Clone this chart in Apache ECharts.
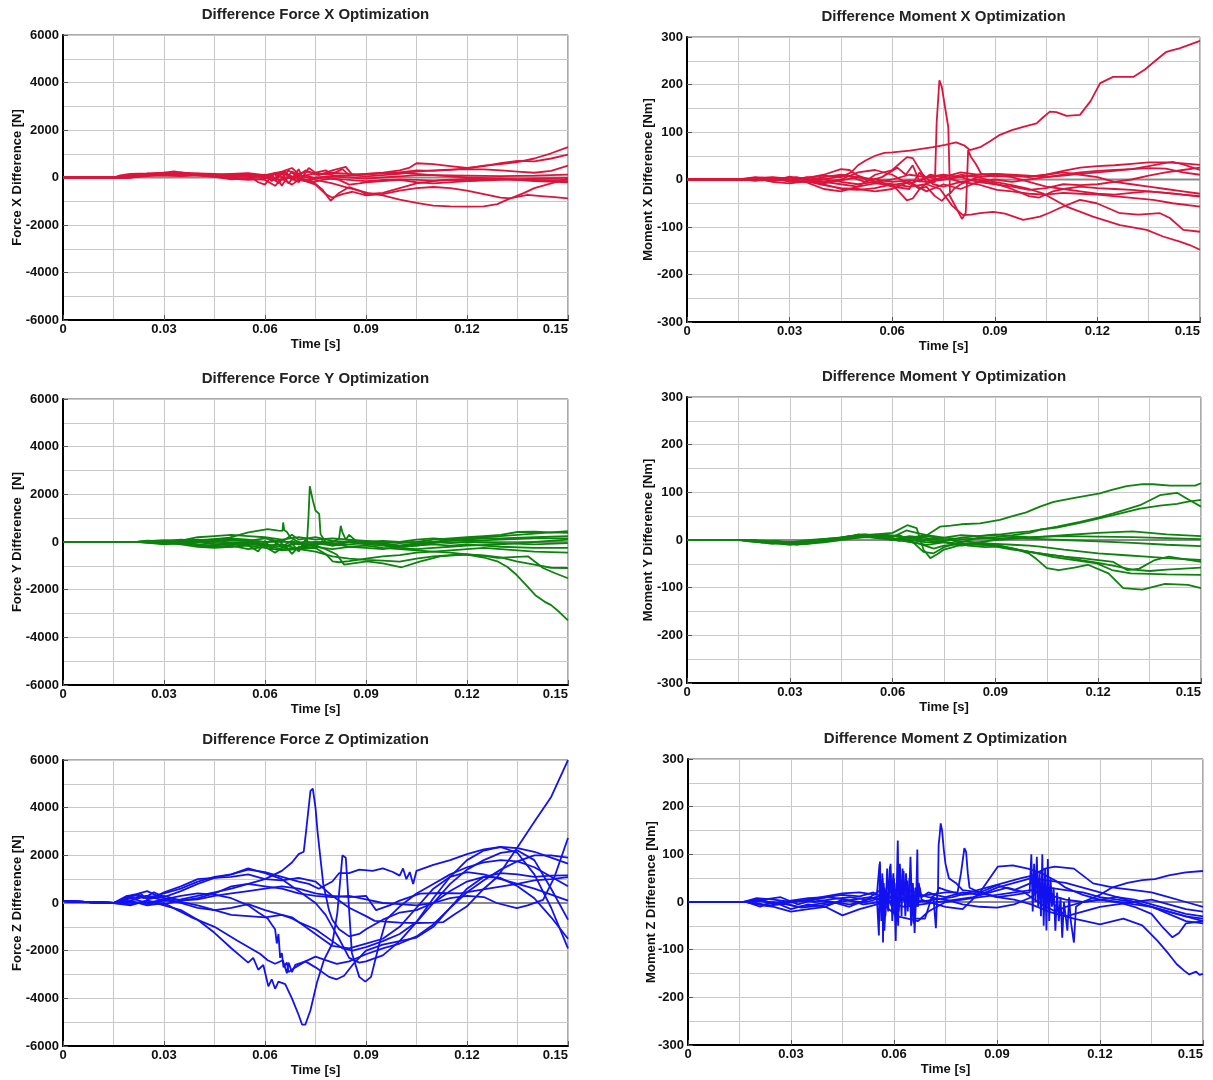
<!DOCTYPE html>
<html>
<head>
<meta charset="utf-8">
<title>Difference Optimization</title>
<script src="https://cdn.jsdelivr.net/npm/echarts@6/dist/echarts.min.js"></script>
<style>
  html, body { margin: 0; padding: 0; background: #ffffff; }
  #chart { width: 1213px; height: 1080px; }
</style>
</head>
<body>
<div id="chart"></div>
<script>
// ---------- tick labels ----------
const timeTicks = [0, 0.03, 0.06, 0.09, 0.12, 0.15];
const forceTicks = [-6000, -4000, -2000, 0, 2000, 4000, 6000];
const momentTicks = [-300, -200, -100, 0, 100, 200, 300];

// reference line at zero
const zeroRef = [[0, 0], [0.15, 0]];

// ---------- Force X difference [N] : [time s, value] ----------
const fx1 = [[0,0],[0.015,0],[0.017,90],[0.02,150],[0.025,170],[0.03,200],[0.033,260],[0.036,180],[0.04,170],[0.045,150],[0.05,120],[0.055,160],[0.06,60],[0.063,180],[0.066,-80],[0.068,250],[0.07,100],[0.072,300],[0.075,120],[0.08,200],[0.085,150],[0.09,120],[0.095,180],[0.1,220],[0.105,300],[0.11,280],[0.115,320],[0.12,380],[0.125,500],[0.13,560],[0.135,650],[0.14,800],[0.145,1020],[0.15,1280]];
const fx2 = [[0,0],[0.016,0],[0.02,100],[0.025,130],[0.03,150],[0.035,220],[0.04,140],[0.045,120],[0.05,90],[0.055,40],[0.06,120],[0.062,-150],[0.065,200],[0.067,-250],[0.07,350],[0.071,50],[0.075,180],[0.08,100],[0.085,80],[0.09,150],[0.095,200],[0.1,300],[0.103,420],[0.105,600],[0.11,560],[0.115,480],[0.12,400],[0.125,480],[0.13,600],[0.135,700],[0.14,680],[0.145,800],[0.15,960]];
const fx3 = [[0,0],[0.018,0],[0.022,120],[0.026,100],[0.03,180],[0.035,140],[0.04,100],[0.045,60],[0.05,-50],[0.055,-100],[0.06,-50],[0.063,150],[0.065,-350],[0.067,100],[0.07,-200],[0.073,400],[0.075,200],[0.078,300],[0.08,150],[0.083,350],[0.085,100],[0.09,50],[0.095,100],[0.1,150],[0.105,250],[0.11,300],[0.115,330],[0.12,350],[0.125,340],[0.13,300],[0.135,250],[0.14,200],[0.145,280],[0.15,500]];
const fx4 = [[0,0],[0.017,0],[0.021,80],[0.025,160],[0.03,120],[0.035,100],[0.04,130],[0.045,80],[0.05,150],[0.055,100],[0.058,-200],[0.06,-300],[0.062,100],[0.064,-250],[0.066,150],[0.068,-100],[0.07,50],[0.072,-150],[0.075,0],[0.08,50],[0.085,0],[0.09,-50],[0.095,0],[0.1,50],[0.105,100],[0.11,100],[0.12,80],[0.13,60],[0.14,80],[0.15,120]];
const fx5 = [[0,0],[0.018,0],[0.02,60],[0.025,90],[0.03,140],[0.035,80],[0.04,110],[0.045,40],[0.05,0],[0.055,-60],[0.06,-100],[0.063,-350],[0.065,-50],[0.068,-300],[0.07,-100],[0.074,-200],[0.077,-100],[0.08,-50],[0.085,-100],[0.09,-150],[0.095,-100],[0.1,-80],[0.105,-100],[0.11,-120],[0.12,-60],[0.13,-80],[0.14,-120],[0.15,-100]];
const fx6 = [[0,0],[0.016,0],[0.02,70],[0.025,120],[0.03,200],[0.035,150],[0.04,130],[0.045,90],[0.05,60],[0.055,100],[0.06,0],[0.065,-100],[0.07,100],[0.075,-100],[0.08,-250],[0.085,-450],[0.0905,-650],[0.095,-750],[0.1,-930],[0.105,-1070],[0.11,-1180],[0.115,-1220],[0.12,-1230],[0.125,-1220],[0.129,-1120],[0.133,-870],[0.138,-730],[0.142,-780],[0.146,-830],[0.15,-880]];
const fx7 = [[0,0],[0.019,0],[0.022,100],[0.027,140],[0.03,110],[0.035,170],[0.04,90],[0.045,50],[0.05,80],[0.055,120],[0.06,50],[0.065,200],[0.07,-50],[0.075,-300],[0.078,-700],[0.08,-850],[0.083,-700],[0.086,-600],[0.09,-750],[0.095,-700],[0.1,-550],[0.105,-450],[0.11,-400],[0.115,-450],[0.12,-550],[0.125,-700],[0.13,-850],[0.133,-880],[0.137,-650],[0.14,-450],[0.145,-250],[0.15,-50]];
const fx8 = [[0,0],[0.02,0],[0.024,90],[0.03,160],[0.035,120],[0.04,160],[0.045,110],[0.05,70],[0.055,30],[0.06,100],[0.064,-200],[0.067,300],[0.07,0],[0.074,-150],[0.077,-500],[0.0795,-980],[0.082,-650],[0.085,-400],[0.088,-550],[0.09,-700],[0.095,-650],[0.1,-450],[0.105,-250],[0.11,-150],[0.115,-100],[0.12,-150],[0.13,-100],[0.14,-50],[0.15,-20]];
const fx9 = [[0,0],[0.02,0],[0.025,60],[0.03,90],[0.035,200],[0.04,150],[0.045,100],[0.05,150],[0.055,180],[0.06,100],[0.065,250],[0.068,400],[0.07,150],[0.073,250],[0.076,100],[0.08,300],[0.084,450],[0.086,100],[0.09,150],[0.1,200],[0.105,150],[0.11,100],[0.12,0],[0.13,-50],[0.14,-100],[0.15,-150]];
const fx10 = [[0,0],[0.02,0],[0.025,120],[0.03,80],[0.035,60],[0.04,90],[0.045,30],[0.05,-80],[0.055,-40],[0.06,80],[0.063,-100],[0.066,250],[0.069,-150],[0.072,100],[0.075,-50],[0.078,0],[0.082,-100],[0.085,-300],[0.088,-250],[0.09,-200],[0.1,-100],[0.105,-200],[0.11,-250],[0.12,-150],[0.13,-50],[0.14,-150],[0.15,-200]];

// ---------- Moment X difference [Nm] ----------
const mx1 = [[0,0],[0.015,0],[0.02,3],[0.025,5],[0.03,2],[0.035,4],[0.04,8],[0.045,5],[0.048,15],[0.05,30],[0.0522,40],[0.055,50],[0.0577,56],[0.06,57],[0.0652,61],[0.07,66],[0.072,68],[0.0755,73],[0.0787,78],[0.081,72],[0.0827,62],[0.0857,68],[0.0885,80],[0.0915,94],[0.095,104],[0.0983,111],[0.1022,118],[0.104,130],[0.1061,143],[0.108,142],[0.111,134],[0.1149,136],[0.118,165],[0.1208,203],[0.1246,216],[0.1305,216],[0.134,232],[0.1373,252],[0.14,268],[0.1417,272],[0.144,276],[0.147,284],[0.15,292]];
const mx2 = [[0,0],[0.015,0],[0.02,-2],[0.025,4],[0.03,-3],[0.035,2],[0.04,-5],[0.045,-10],[0.05,-15],[0.055,-8],[0.06,-12],[0.065,-5],[0.068,-20],[0.07,-8],[0.0725,-5],[0.073,120],[0.0738,209],[0.0745,195],[0.0755,150],[0.0764,110],[0.0769,-30],[0.078,-20],[0.08,-10],[0.085,5],[0.09,8],[0.095,5],[0.1,-5],[0.105,-15],[0.11,-20],[0.115,-25],[0.12,-30],[0.125,-32],[0.13,-28],[0.135,-25],[0.14,-28],[0.145,-32],[0.15,-35]];
const mx3 = [[0,0],[0.016,0],[0.02,4],[0.025,-3],[0.03,6],[0.035,0],[0.04,-10],[0.045,-20],[0.05,-22],[0.055,-18],[0.06,-10],[0.0643,-44],[0.066,-40],[0.068,-20],[0.07,-15],[0.0725,-35],[0.0745,-45],[0.0765,-30],[0.078,-50],[0.0804,-83],[0.0815,-70],[0.0818,-20],[0.0822,62],[0.083,48],[0.0845,32],[0.086,12],[0.09,6],[0.095,8],[0.1,5],[0.105,10],[0.11,15],[0.115,10],[0.12,5],[0.125,-5],[0.13,-10],[0.135,-15],[0.14,-20],[0.145,-25],[0.15,-30]];
const mx4 = [[0,0],[0.015,0],[0.02,2],[0.025,-4],[0.03,3],[0.035,-2],[0.04,5],[0.045,10],[0.05,5],[0.055,-5],[0.06,-10],[0.065,-15],[0.07,-10],[0.074,-20],[0.0775,-55],[0.0807,-75],[0.083,-74],[0.0857,-71],[0.0895,-68],[0.093,-72],[0.0983,-85],[0.1032,-78],[0.106,-70],[0.109,-60],[0.1149,-43],[0.1198,-50],[0.1266,-71],[0.132,-74],[0.1383,-71],[0.1412,-81],[0.1451,-106],[0.15,-110]];
const mx5 = [[0,0],[0.015,0],[0.02,5],[0.025,2],[0.03,-4],[0.035,3],[0.04,10],[0.045,22],[0.0475,20],[0.05,8],[0.055,-5],[0.06,0],[0.065,10],[0.07,5],[0.075,0],[0.08,10],[0.085,5],[0.09,-5],[0.095,-12],[0.1,-20],[0.104,-29],[0.111,-57],[0.1187,-78],[0.1266,-96],[0.1344,-106],[0.1392,-120],[0.1441,-131],[0.147,-138],[0.15,-148]];
const mx6 = [[0,0],[0.017,0],[0.02,-3],[0.025,3],[0.03,-2],[0.035,-6],[0.04,-20],[0.045,-25],[0.05,-15],[0.055,10],[0.06,20],[0.0643,47],[0.066,45],[0.0688,12],[0.072,-10],[0.075,-15],[0.08,-5],[0.085,-10],[0.0906,-22],[0.095,-25],[0.1,-30],[0.105,-32],[0.11,-28],[0.115,-30],[0.12,-32],[0.1363,-43],[0.142,-50],[0.15,-57]];
const mx7 = [[0,0],[0.016,0],[0.02,2],[0.025,-2],[0.03,4],[0.035,0],[0.04,-5],[0.045,0],[0.05,15],[0.055,20],[0.06,10],[0.065,-10],[0.07,5],[0.075,10],[0.08,5],[0.085,10],[0.09,12],[0.095,8],[0.1,6],[0.105,10],[0.11,18],[0.115,25],[0.12,28],[0.125,30],[0.13,33],[0.135,36],[0.14,36],[0.145,34],[0.15,31]];
const mx8 = [[0,0],[0.018,0],[0.02,3],[0.025,-5],[0.03,-8],[0.035,-4],[0.04,-12],[0.045,-18],[0.05,-20],[0.055,-25],[0.06,-20],[0.065,-5],[0.07,-25],[0.075,-10],[0.08,-20],[0.085,-5],[0.09,-10],[0.095,-15],[0.1,-22],[0.105,-18],[0.11,-10],[0.115,-12],[0.12,-10],[0.125,-5],[0.13,0],[0.135,8],[0.14,15],[0.145,20],[0.15,25]];
const mx9 = [[0,0],[0.018,0],[0.022,4],[0.027,-2],[0.032,5],[0.037,-3],[0.042,3],[0.047,8],[0.052,-5],[0.057,5],[0.0615,25],[0.064,10],[0.066,30],[0.068,-5],[0.071,10],[0.075,5],[0.08,15],[0.085,10],[0.09,12],[0.095,10],[0.1,8],[0.105,5],[0.11,10],[0.115,15],[0.12,18],[0.125,20],[0.13,22],[0.135,24],[0.14,23],[0.145,15],[0.15,10]];
const mx10 = [[0,0],[0.017,0],[0.022,-2],[0.027,3],[0.03,-5],[0.035,-3],[0.04,-8],[0.045,-2],[0.05,5],[0.055,0],[0.06,-5],[0.065,-2],[0.07,-5],[0.075,5],[0.08,-5],[0.085,0],[0.09,-8],[0.095,-20],[0.1,-35],[0.103,-38],[0.107,-25],[0.11,-20],[0.115,-15],[0.12,-18],[0.125,-20],[0.13,-22],[0.135,-25],[0.14,-28],[0.145,-32],[0.15,-36]];
const mx11 = [[0,0],[0.02,0],[0.025,2],[0.03,-3],[0.035,5],[0.04,0],[0.045,-5],[0.05,-10],[0.055,-5],[0.06,-15],[0.065,-20],[0.068,15],[0.07,-5],[0.075,0],[0.08,5],[0.085,-5],[0.09,0],[0.095,-5],[0.1,0],[0.105,5],[0.11,8],[0.115,12],[0.12,15],[0.125,18],[0.13,22],[0.135,28],[0.14,35],[0.142,37],[0.145,32],[0.15,20]];

// ---------- Force Y difference [N] ----------
const fy1 = [[0,0],[0.022,0],[0.025,60],[0.03,20],[0.035,-40],[0.04,40],[0.045,120],[0.05,100],[0.055,50],[0.06,-100],[0.062,100],[0.065,-200],[0.068,50],[0.07,-100],[0.0725,50],[0.0729,1000],[0.0733,2340],[0.0737,2300],[0.0742,1750],[0.075,1320],[0.0761,1180],[0.0765,330],[0.078,0],[0.08,-100],[0.085,50],[0.09,0],[0.095,-50],[0.1,-150],[0.105,-100],[0.11,0],[0.115,100],[0.12,150],[0.125,200],[0.13,250],[0.135,300],[0.14,350],[0.145,400],[0.15,380]];
const fy2 = [[0,0],[0.022,0],[0.026,50],[0.03,-30],[0.035,40],[0.04,80],[0.045,120],[0.0494,184],[0.0551,400],[0.0608,540],[0.064,480],[0.0652,470],[0.0654,820],[0.0657,500],[0.0665,420],[0.0676,184],[0.07,0],[0.072,-200],[0.075,-50],[0.08,-150],[0.085,-100],[0.09,-50],[0.095,-100],[0.1,-200],[0.105,-150],[0.11,-100],[0.115,-150],[0.12,-100],[0.125,-150],[0.13,-200],[0.14,-250],[0.15,-250]];
const fy3 = [[0,0],[0.023,0],[0.027,-60],[0.03,-100],[0.035,-50],[0.04,-150],[0.045,-200],[0.05,-150],[0.055,-300],[0.06,-200],[0.063,-450],[0.066,-150],[0.068,-500],[0.07,-200],[0.075,-100],[0.08,0],[0.082,150],[0.0825,680],[0.083,400],[0.084,100],[0.085,300],[0.087,50],[0.09,0],[0.095,50],[0.1,0],[0.105,100],[0.11,150],[0.115,100],[0.12,50],[0.13,100],[0.14,150],[0.15,150]];
const fy4 = [[0,0],[0.024,0],[0.028,30],[0.03,-50],[0.035,-100],[0.04,-200],[0.045,-250],[0.05,-200],[0.055,-100],[0.06,-150],[0.065,-300],[0.07,-250],[0.075,-200],[0.08,-300],[0.085,-200],[0.09,-150],[0.095,-250],[0.1,-300],[0.105,-350],[0.11,-400],[0.115,-450],[0.12,-525],[0.125,-650],[0.129,-810],[0.132,-1050],[0.1347,-1375],[0.1375,-1800],[0.1403,-2230],[0.143,-2500],[0.145,-2650],[0.1475,-2950],[0.15,-3290]];
const fy5 = [[0,0],[0.022,0],[0.026,-30],[0.03,50],[0.035,0],[0.04,-100],[0.045,-150],[0.05,-200],[0.055,-150],[0.06,-250],[0.065,-350],[0.07,-300],[0.075,-400],[0.08,-600],[0.085,-700],[0.09,-750],[0.095,-780],[0.1,-820],[0.105,-700],[0.11,-600],[0.115,-550],[0.12,-525],[0.125,-580],[0.129,-667],[0.1381,-600],[0.1426,-1090],[0.146,-1300],[0.15,-1520]];
const fy6 = [[0,0],[0.024,0],[0.03,20],[0.035,-60],[0.04,-30],[0.045,50],[0.05,-50],[0.055,0],[0.06,-100],[0.065,-200],[0.07,-50],[0.075,-150],[0.078,-300],[0.0813,-525],[0.0835,-950],[0.0903,-810],[0.095,-900],[0.1006,-1060],[0.1062,-810],[0.112,-600],[0.12,-520],[0.125,-560],[0.13,-650],[0.1347,-810],[0.14,-950],[0.145,-1080],[0.15,-1090]];
const fy7 = [[0,0],[0.025,0],[0.03,-80],[0.035,-30],[0.04,20],[0.045,-80],[0.05,-100],[0.055,-50],[0.06,-150],[0.065,-100],[0.07,-300],[0.075,-250],[0.078,-500],[0.0801,-810],[0.082,-850],[0.085,-800],[0.09,-700],[0.095,-600],[0.1,-550],[0.105,-450],[0.11,-400],[0.115,-350],[0.12,-300],[0.125,-250],[0.13,-300],[0.14,-400],[0.15,-450]];
const fy8 = [[0,0],[0.022,0],[0.025,40],[0.03,80],[0.035,60],[0.04,200],[0.045,250],[0.05,300],[0.055,250],[0.06,200],[0.065,100],[0.07,200],[0.075,100],[0.08,150],[0.085,100],[0.09,50],[0.095,0],[0.1,-50],[0.105,0],[0.11,100],[0.115,150],[0.12,200],[0.125,250],[0.13,300],[0.135,420],[0.14,430],[0.145,400],[0.15,460]];
const fy9 = [[0,0],[0.023,0],[0.026,-20],[0.03,30],[0.035,-20],[0.04,0],[0.045,-100],[0.05,-50],[0.055,-150],[0.058,-400],[0.06,50],[0.062,-300],[0.064,100],[0.066,-250],[0.068,-50],[0.07,-400],[0.072,100],[0.075,-200],[0.077,50],[0.08,-150],[0.085,0],[0.09,50],[0.095,-100],[0.1,-150],[0.105,-50],[0.11,0],[0.115,-50],[0.12,0],[0.13,-50],[0.14,-100],[0.15,-50]];
const fy10 = [[0,0],[0.024,0],[0.028,-40],[0.03,-10],[0.035,80],[0.04,100],[0.045,50],[0.05,150],[0.055,100],[0.06,0],[0.065,50],[0.07,-100],[0.075,0],[0.08,-50],[0.085,-200],[0.09,-250],[0.095,-300],[0.1,-200],[0.105,-150],[0.11,-50],[0.115,50],[0.12,100],[0.125,150],[0.13,150],[0.14,200],[0.15,250]];
const fy11 = [[0,0],[0.025,0],[0.03,40],[0.035,100],[0.04,60],[0.045,0],[0.05,80],[0.055,50],[0.06,150],[0.065,0],[0.068,300],[0.07,100],[0.075,200],[0.08,50],[0.085,0],[0.09,-100],[0.095,-150],[0.1,-250],[0.105,-300],[0.11,-250],[0.115,-200],[0.12,-150],[0.13,-100],[0.14,0],[0.15,100]];

// ---------- Moment Y difference [Nm] ----------
const my1 = [[0,0],[0.015,0],[0.018,-3],[0.022,-5],[0.026,-2],[0.03,-6],[0.035,-4],[0.04,0],[0.045,3],[0.05,8],[0.055,12],[0.06,6],[0.064,20],[0.067,15],[0.07,10],[0.0738,28],[0.077,30],[0.08,33],[0.0855,35],[0.0913,42],[0.095,50],[0.099,58],[0.103,70],[0.107,80],[0.1127,88],[0.1205,98],[0.124,105],[0.1283,113],[0.133,117],[0.136,117],[0.141,114],[0.1483,114],[0.15,119]];
const my2 = [[0,0],[0.016,0],[0.02,-4],[0.025,-8],[0.03,-5],[0.035,-8],[0.04,-2],[0.045,4],[0.05,10],[0.055,8],[0.06,0],[0.065,5],[0.07,10],[0.075,5],[0.08,2],[0.085,3],[0.09,6],[0.095,10],[0.1,15],[0.103,21],[0.108,28],[0.1147,38],[0.12,47],[0.1244,56],[0.1322,73],[0.138,94],[0.143,99],[0.1458,87],[0.148,78],[0.15,70]];
const my3 = [[0,0],[0.017,0],[0.021,-2],[0.025,-6],[0.03,-10],[0.035,-6],[0.04,-3],[0.045,2],[0.05,12],[0.055,10],[0.06,2],[0.065,8],[0.07,4],[0.075,-2],[0.08,5],[0.085,8],[0.09,10],[0.095,15],[0.1,18],[0.103,22],[0.108,26],[0.1147,36],[0.12,45],[0.1244,52],[0.1322,66],[0.138,72],[0.143,76],[0.1458,80],[0.15,84]];
const my4 = [[0,0],[0.016,0],[0.02,-3],[0.025,-5],[0.03,-8],[0.035,-3],[0.04,0],[0.045,5],[0.05,10],[0.055,12],[0.06,15],[0.0643,31],[0.067,25],[0.069,-20],[0.071,-38],[0.073,-30],[0.075,-20],[0.08,-10],[0.085,-5],[0.09,0],[0.1,5],[0.11,10],[0.12,15],[0.13,18],[0.14,12],[0.15,8]];
const my5 = [[0,0],[0.017,0],[0.022,-5],[0.027,-3],[0.032,-10],[0.037,-5],[0.042,0],[0.047,8],[0.052,12],[0.057,6],[0.062,10],[0.066,-5],[0.069,-25],[0.072,-28],[0.075,-15],[0.08,-5],[0.085,5],[0.09,3],[0.095,5],[0.1,3],[0.11,0],[0.12,-3],[0.13,-6],[0.14,-10],[0.15,-13]];
const my6 = [[0,0],[0.018,0],[0.022,-4],[0.028,-8],[0.033,-6],[0.038,-2],[0.043,2],[0.048,6],[0.053,10],[0.058,4],[0.062,-2],[0.066,5],[0.07,0],[0.075,5],[0.08,10],[0.085,8],[0.09,12],[0.095,8],[0.1,6],[0.11,8],[0.12,7],[0.13,6],[0.14,4],[0.15,2]];
const my7 = [[0,0],[0.016,0],[0.02,-2],[0.025,-4],[0.03,-6],[0.035,-2],[0.04,2],[0.045,5],[0.05,8],[0.055,5],[0.06,3],[0.065,0],[0.07,-5],[0.075,-4],[0.08,-8],[0.085,-6],[0.09,-8],[0.095,-10],[0.1,-12],[0.103,-14],[0.11,-20],[0.12,-28],[0.128,-32],[0.134,-35],[0.14,-38],[0.15,-42]];
const my8 = [[0,0],[0.017,0],[0.021,-3],[0.026,-6],[0.031,-4],[0.036,0],[0.041,3],[0.046,6],[0.051,10],[0.056,8],[0.061,2],[0.066,-5],[0.07,-10],[0.075,-5],[0.08,-12],[0.085,-8],[0.0898,-10],[0.095,-18],[0.1,-25],[0.105,-30],[0.11,-35],[0.115,-38],[0.12,-42],[0.1244,-46],[0.1284,-63],[0.132,-60],[0.1365,-42],[0.1406,-35],[0.145,-40],[0.15,-46]];
const my9 = [[0,0],[0.018,0],[0.023,-2],[0.028,-5],[0.033,-8],[0.038,-4],[0.043,0],[0.048,4],[0.053,6],[0.058,2],[0.063,-2],[0.068,-8],[0.072,-18],[0.075,-12],[0.08,-8],[0.085,-10],[0.09,-12],[0.095,-18],[0.1,-25],[0.102,-28],[0.107,-36],[0.113,-42],[0.1196,-49],[0.124,-63],[0.1295,-70],[0.135,-71],[0.14,-72],[0.15,-73]];
const my10 = [[0,0],[0.016,0],[0.02,-2],[0.025,-6],[0.03,-4],[0.035,-8],[0.04,-5],[0.045,0],[0.05,5],[0.055,10],[0.06,8],[0.065,5],[0.07,8],[0.075,2],[0.08,-3],[0.085,-5],[0.09,-10],[0.0955,-18],[0.0997,-28],[0.102,-40],[0.105,-59],[0.1085,-63],[0.113,-58],[0.117,-52],[0.123,-70],[0.1273,-101],[0.1329,-104],[0.1395,-92],[0.1462,-94],[0.15,-101]];
const my11 = [[0,0],[0.018,0],[0.022,-3],[0.027,-4],[0.032,-7],[0.037,-3],[0.042,1],[0.047,4],[0.052,8],[0.057,12],[0.062,8],[0.067,2],[0.072,-3],[0.077,0],[0.082,-12],[0.087,-15],[0.09,-14],[0.095,-20],[0.1,-25],[0.105,-30],[0.11,-35],[0.115,-42],[0.12,-48],[0.125,-55],[0.13,-62],[0.135,-65],[0.14,-62],[0.145,-60],[0.15,-58]];

// ---------- Force Z difference [N] ----------
const fz1 = [[0,80],[0.015,0],[0.02,200],[0.025,300],[0.03,100],[0.035,150],[0.04,300],[0.045,450],[0.05,600],[0.055,800],[0.06,1000],[0.065,1350],[0.068,1700],[0.07,2050],[0.0715,2150],[0.0722,3000],[0.0735,4700],[0.0742,4800],[0.075,4000],[0.0756,3000],[0.0773,800],[0.079,-300],[0.08,-700],[0.082,-1100],[0.085,-1400],[0.088,-1300],[0.09,-1100],[0.095,-700],[0.1,-400],[0.105,-300],[0.11,0],[0.115,500],[0.12,900],[0.125,1100],[0.13,1050],[0.135,700],[0.14,200],[0.145,-600],[0.15,-1500]];
const fz2 = [[0,80],[0.015,0],[0.02,-50],[0.025,100],[0.03,-100],[0.035,-300],[0.04,-700],[0.045,-1250],[0.05,-1900],[0.055,-2500],[0.0565,-2300],[0.058,-2800],[0.0595,-2600],[0.061,-3500],[0.062,-3200],[0.063,-3600],[0.064,-3300],[0.066,-3400],[0.068,-4000],[0.07,-4700],[0.071,-5100],[0.072,-5100],[0.0735,-4500],[0.0755,-3300],[0.0775,-2400],[0.08,-1700],[0.0815,-400],[0.083,2000],[0.084,1900],[0.0858,-2100],[0.088,-3100],[0.0898,-3300],[0.0915,-3100],[0.0937,-1850],[0.096,-700],[0.1,-150],[0.105,400],[0.11,800],[0.115,1200],[0.12,1500],[0.125,1700],[0.13,1800],[0.135,1750],[0.14,1500],[0.145,1100],[0.15,700]];
const fz3 = [[0,80],[0.015,0],[0.02,100],[0.025,-100],[0.03,0],[0.034,-300],[0.038,-590],[0.045,-1000],[0.0517,-1570],[0.0585,-2130],[0.0608,-2400],[0.063,-2550],[0.0653,-2400],[0.0665,-2950],[0.067,-2500],[0.068,-2900],[0.069,-2600],[0.072,-2450],[0.075,-2250],[0.078,-2400],[0.0813,-2550],[0.085,-2450],[0.09,-2150],[0.095,-1900],[0.1,-1700],[0.105,-1400],[0.11,-900],[0.115,-200],[0.12,450],[0.125,950],[0.13,1400],[0.135,1750],[0.14,2000],[0.145,2000],[0.15,1900]];
const fz4 = [[0,80],[0.015,0],[0.02,200],[0.025,0],[0.03,150],[0.035,300],[0.04,400],[0.045,350],[0.05,200],[0.055,-100],[0.058,-400],[0.0608,-650],[0.062,-900],[0.063,-1100],[0.0635,-1700],[0.064,-1300],[0.0645,-2300],[0.065,-2100],[0.0655,-2700],[0.0665,-2500],[0.067,-2900],[0.069,-2700],[0.072,-2450],[0.075,-2700],[0.079,-3100],[0.0813,-3200],[0.0835,-3050],[0.086,-2600],[0.09,-2000],[0.095,-1750],[0.1,-1600],[0.105,-1450],[0.11,-1000],[0.115,-200],[0.12,600],[0.125,1100],[0.13,1250],[0.135,1200],[0.14,1100],[0.145,1150],[0.15,1160]];
const fz5 = [[0,80],[0.005,40],[0.015,0],[0.018,150],[0.021,350],[0.024,200],[0.027,450],[0.03,250],[0.035,500],[0.04,800],[0.045,1050],[0.05,1100],[0.055,1200],[0.06,1000],[0.065,950],[0.07,1050],[0.075,900],[0.08,300],[0.085,-200],[0.09,-550],[0.0926,-750],[0.1,-820],[0.105,-840],[0.11,-820],[0.113,-800],[0.116,-500],[0.1199,-150],[0.125,600],[0.129,1090],[0.1347,2280],[0.1403,3470],[0.145,4450],[0.15,5990]];
const fz6 = [[0,80],[0.015,0],[0.02,250],[0.023,400],[0.025,150],[0.03,300],[0.035,100],[0.04,200],[0.045,400],[0.05,700],[0.055,800],[0.06,700],[0.065,600],[0.07,400],[0.075,300],[0.08,250],[0.085,300],[0.09,150],[0.095,0],[0.1,-50],[0.105,-100],[0.11,0],[0.115,200],[0.12,300],[0.125,250],[0.1288,0],[0.1348,-220],[0.138,-100],[0.1426,130],[0.146,1100],[0.15,2730]];
const fz7 = [[0,80],[0.015,0],[0.019,300],[0.022,350],[0.025,200],[0.03,400],[0.035,600],[0.04,900],[0.045,1100],[0.05,1200],[0.055,1400],[0.06,1300],[0.065,1100],[0.07,900],[0.073,800],[0.076,600],[0.08,900],[0.082,1250],[0.085,1250],[0.088,1400],[0.092,1350],[0.095,1450],[0.098,1300],[0.1,1150],[0.101,1450],[0.102,1000],[0.103,1300],[0.104,800],[0.105,1350],[0.11,1600],[0.115,1800],[0.12,2050],[0.125,2250],[0.13,2350],[0.135,2300],[0.14,2150],[0.145,1900],[0.15,1650]];
const fz8 = [[0,80],[0.015,0],[0.02,100],[0.025,300],[0.03,200],[0.035,0],[0.04,-200],[0.045,-300],[0.05,-500],[0.055,-550],[0.06,-600],[0.065,-500],[0.068,-650],[0.07,-800],[0.075,-1100],[0.08,-1600],[0.083,-1900],[0.086,-2000],[0.09,-1850],[0.095,-1600],[0.1,-1300],[0.105,-800],[0.11,0],[0.115,800],[0.12,1400],[0.125,1800],[0.13,2100],[0.135,2200],[0.14,1800],[0.145,600],[0.15,-700]];
const fz9 = [[0,80],[0.015,0],[0.02,-100],[0.025,100],[0.03,-50],[0.035,100],[0.04,150],[0.045,300],[0.05,400],[0.055,500],[0.06,600],[0.065,700],[0.07,600],[0.075,400],[0.08,300],[0.085,250],[0.09,300],[0.093,-300],[0.097,-100],[0.1,100],[0.106,390],[0.112,420],[0.118,400],[0.124,550],[0.129,670],[0.135,800],[0.14,950],[0.145,1000],[0.15,1090]];
const fz10 = [[0,80],[0.015,0],[0.02,50],[0.025,-50],[0.03,100],[0.035,50],[0.04,-100],[0.045,-300],[0.05,-200],[0.055,-50],[0.06,-300],[0.065,-500],[0.068,-600],[0.07,-800],[0.075,-1300],[0.08,-1800],[0.085,-1900],[0.09,-1700],[0.095,-1500],[0.1,-1000],[0.105,-200],[0.11,600],[0.115,1100],[0.12,1300],[0.125,1200],[0.13,1000],[0.135,800],[0.14,600],[0.145,350],[0.15,100]];
const fz11 = [[0,80],[0.015,0],[0.02,300],[0.025,500],[0.028,300],[0.03,450],[0.035,700],[0.04,1000],[0.045,1050],[0.05,1200],[0.055,1450],[0.06,1250],[0.065,1000],[0.07,500],[0.075,0],[0.078,-500],[0.08,-1000],[0.082,-1500],[0.085,-2300],[0.088,-2500],[0.09,-2450],[0.095,-2200],[0.1,-1600],[0.105,-800],[0.11,200],[0.115,1100],[0.12,1800],[0.125,2200],[0.13,2350],[0.135,2100],[0.14,1200],[0.145,-200],[0.15,-1900]];

// ---------- Moment Z difference [Nm] ----------
const mz1 = [[0,0],[0.016,0],[0.02,5],[0.025,-5],[0.03,3],[0.035,8],[0.04,10],[0.045,15],[0.05,12],[0.054,20],[0.055,15],[0.0558,80],[0.0562,-10],[0.0566,60],[0.0568,-85],[0.057,40],[0.0575,-30],[0.058,70],[0.0585,10],[0.059,80],[0.0595,-40],[0.06,50],[0.0605,-82],[0.0608,30],[0.0611,129],[0.0614,-20],[0.0618,60],[0.0622,-30],[0.0625,70],[0.063,0],[0.0635,60],[0.064,-20],[0.0645,50],[0.065,-50],[0.0655,40],[0.066,-65],[0.0665,20],[0.0668,110],[0.067,-10],[0.0675,30],[0.068,10],[0.07,20],[0.072,15],[0.075,10],[0.08,20],[0.085,15],[0.09,30],[0.095,40],[0.1,50],[0.105,45],[0.11,40],[0.115,30],[0.12,20],[0.125,10],[0.13,0],[0.135,-10],[0.14,-20],[0.145,-30],[0.15,-35]];
const mz2 = [[0,0],[0.017,0],[0.021,-10],[0.025,0],[0.03,-15],[0.035,-5],[0.04,-10],[0.045,5],[0.05,0],[0.055,10],[0.0556,-70],[0.0559,85],[0.0563,-40],[0.0567,50],[0.0572,-60],[0.0578,30],[0.0583,-20],[0.0588,75],[0.0593,0],[0.0598,60],[0.0602,-30],[0.0607,40],[0.0612,-50],[0.0617,80],[0.0622,10],[0.0628,65],[0.0633,-30],[0.0638,45],[0.0643,-10],[0.0648,95],[0.0652,0],[0.0657,-45],[0.0662,30],[0.0667,-10],[0.0672,40],[0.068,5],[0.07,0],[0.0715,10],[0.0722,-55],[0.0726,20],[0.073,30],[0.075,25],[0.08,15],[0.085,20],[0.09,10],[0.095,15],[0.0995,20],[0.1,100],[0.1004,-20],[0.1008,80],[0.1012,0],[0.1016,95],[0.102,-10],[0.1024,60],[0.1028,-30],[0.1032,100],[0.1036,-50],[0.104,70],[0.1044,-60],[0.1048,90],[0.1052,-40],[0.1056,50],[0.106,-10],[0.1065,30],[0.107,-60],[0.1075,20],[0.108,-40],[0.1085,10],[0.109,-75],[0.1095,0],[0.11,-30],[0.1105,-60],[0.111,10],[0.1115,-40],[0.1124,-85],[0.113,-10],[0.115,0],[0.12,5],[0.125,10],[0.13,5],[0.135,-5],[0.14,-15],[0.145,-25],[0.15,-30]];
const mz3 = [[0,0],[0.018,0],[0.022,5],[0.027,10],[0.032,-5],[0.037,5],[0.042,0],[0.047,-10],[0.052,5],[0.057,30],[0.06,-20],[0.063,40],[0.066,-35],[0.069,-35],[0.071,10],[0.0728,20],[0.073,120],[0.0733,140],[0.0736,165],[0.074,150],[0.0745,110],[0.075,80],[0.076,50],[0.078,40],[0.08,25],[0.085,20],[0.09,35],[0.095,25],[0.1,40],[0.105,30],[0.11,25],[0.115,20],[0.12,10],[0.125,5],[0.13,0],[0.135,-10],[0.14,-25],[0.145,-40],[0.15,-45]];
const mz4 = [[0,0],[0.017,0],[0.02,-5],[0.025,-10],[0.03,-20],[0.035,-15],[0.04,-10],[0.045,-28],[0.05,-15],[0.055,-5],[0.06,5],[0.065,10],[0.07,15],[0.075,20],[0.0785,20],[0.0795,60],[0.0805,113],[0.081,105],[0.0815,60],[0.082,30],[0.085,20],[0.09,10],[0.095,5],[0.1,-5],[0.105,-20],[0.1124,-35],[0.12,-47],[0.1268,-35],[0.1323,-49],[0.1367,-81],[0.14,-109],[0.1423,-130],[0.1445,-144],[0.146,-152],[0.148,-146],[0.149,-153],[0.15,-151]];
const mz5 = [[0,0],[0.016,0],[0.02,8],[0.025,5],[0.03,0],[0.035,5],[0.04,12],[0.045,18],[0.05,20],[0.055,15],[0.06,10],[0.065,5],[0.07,0],[0.075,-10],[0.08,-15],[0.085,20],[0.0902,74],[0.0946,77],[0.099,70],[0.103,60],[0.107,45],[0.11,30],[0.115,15],[0.12,5],[0.125,0],[0.13,-5],[0.135,-10],[0.14,-20],[0.145,-30],[0.15,-40]];
const mz6 = [[0,0],[0.017,0],[0.022,-5],[0.027,0],[0.032,-10],[0.037,-5],[0.042,0],[0.047,-5],[0.052,0],[0.057,10],[0.062,5],[0.067,0],[0.072,5],[0.077,10],[0.082,20],[0.087,30],[0.092,40],[0.097,50],[0.1,55],[0.104,70],[0.1068,74],[0.1124,70],[0.118,39],[0.124,30],[0.13,25],[0.135,20],[0.14,10],[0.145,0],[0.15,-10]];
const mz7 = [[0,0],[0.018,0],[0.023,-8],[0.028,-4],[0.033,-12],[0.038,-8],[0.043,-2],[0.048,5],[0.053,10],[0.058,0],[0.063,-10],[0.068,-5],[0.073,0],[0.078,5],[0.083,10],[0.088,20],[0.093,30],[0.098,20],[0.103,-5],[0.107,-20],[0.11,-10],[0.115,0],[0.12,15],[0.1234,30],[0.128,40],[0.1323,46],[0.136,48],[0.14,56],[0.145,62],[0.15,65]];
const mz8 = [[0,0],[0.017,0],[0.021,5],[0.026,-5],[0.031,0],[0.036,5],[0.041,10],[0.046,5],[0.051,-5],[0.056,0],[0.061,-30],[0.064,-35],[0.067,-40],[0.07,-20],[0.075,0],[0.08,5],[0.085,10],[0.09,15],[0.095,20],[0.1,25],[0.105,15],[0.11,5],[0.115,0],[0.12,5],[0.125,0],[0.13,-10],[0.135,-25],[0.1385,-55],[0.1411,-74],[0.143,-65],[0.145,-45],[0.148,-42],[0.15,-40]];
const mz9 = [[0,0],[0.018,0],[0.022,2],[0.027,-3],[0.032,4],[0.037,0],[0.042,6],[0.047,10],[0.052,5],[0.057,15],[0.062,30],[0.066,20],[0.07,10],[0.075,5],[0.08,-5],[0.085,-10],[0.09,-12],[0.095,-5],[0.1,10],[0.103,30],[0.106,0],[0.11,-30],[0.115,-20],[0.12,-10],[0.125,-5],[0.13,0],[0.135,5],[0.14,-5],[0.145,-15],[0.15,-20]];

// ---------- panel setup ----------
const RED = '#dc143c';
const GREEN = '#0d820d';
const BLUE = '#1212f0';
const FONT = '"Liberation Sans", Arial, sans-serif';

const panels = [
  { title: 'Difference Force X Optimization', yName: 'Force X Difference [N]', ticks: forceTicks, color: RED,
    traces: [fx1, fx2, fx3, fx4, fx5, fx6, fx7, fx8, fx9, fx10],
    box: { left: 63, top: 35, width: 505, height: 285 }, titleY: 7, nameGap: 39 },
  { title: 'Difference Moment X Optimization', yName: 'Moment X Difference [Nm]', ticks: momentTicks, color: RED,
    traces: [mx1, mx2, mx3, mx4, mx5, mx6, mx7, mx8, mx9, mx10, mx11],
    box: { left: 687, top: 37, width: 513, height: 285 }, titleY: 9, nameGap: 32 },
  { title: 'Difference Force Y Optimization', yName: 'Force Y Difference  [N]', ticks: forceTicks, color: GREEN,
    traces: [fy1, fy2, fy3, fy4, fy5, fy6, fy7, fy8, fy9, fy10, fy11],
    box: { left: 63, top: 399, width: 505, height: 286 }, titleY: 371, nameGap: 39 },
  { title: 'Difference Moment Y Optimization', yName: 'Moment Y Difference [Nm]', ticks: momentTicks, color: GREEN,
    traces: [my1, my2, my3, my4, my5, my6, my7, my8, my9, my10, my11],
    box: { left: 687, top: 397, width: 514, height: 286 }, titleY: 369, nameGap: 32 },
  { title: 'Difference Force Z Optimization', yName: 'Force Z Difference [N]', ticks: forceTicks, color: BLUE,
    traces: [fz1, fz2, fz3, fz4, fz5, fz6, fz7, fz8, fz9, fz10, fz11],
    box: { left: 63, top: 760, width: 505, height: 286 }, titleY: 732, nameGap: 39 },
  { title: 'Difference Moment Z Optimization', yName: 'Moment Z Difference [Nm]', ticks: momentTicks, color: BLUE,
    traces: [mz1, mz2, mz3, mz4, mz5, mz6, mz7, mz8, mz9],
    box: { left: 688, top: 759, width: 515, height: 286 }, titleY: 731, nameGap: 30 }
];

const gridLine = { color: '#c9c9c9', width: 1 };
const tickStyle = { color: '#111', fontFamily: FONT, fontWeight: 'bold', fontSize: 13 };
const nameStyle = { color: '#111', fontFamily: FONT, fontWeight: 'bold', fontSize: 13 };

const option = {
  backgroundColor: '#ffffff',
  animation: false,
  title: [], grid: [], xAxis: [], yAxis: [], series: []
};

panels.forEach((p, i) => {
  const b = p.box;
  option.title.push({
    text: p.title, left: b.left + b.width / 2, top: p.titleY, textAlign: 'center', padding: 0,
    textStyle: { fontFamily: FONT, fontWeight: 'bold', fontSize: 15, color: '#222' }
  });
  option.grid.push({
    left: b.left, top: b.top, width: b.width, height: b.height,
    show: true, borderColor: '#555', borderWidth: 1, backgroundColor: '#fff', containLabel: false
  });
  option.xAxis.push({
    type: 'value', gridIndex: i,
    min: timeTicks[0], max: timeTicks[timeTicks.length - 1], interval: timeTicks[1] - timeTicks[0],
    name: 'Time [s]', nameLocation: 'middle', nameGap: 18, nameMoveOverlap: false,
    nameTextStyle: nameStyle,
    axisLine: { show: true, onZero: false, lineStyle: { color: '#000', width: 2 } },
    axisTick: { show: true, inside: true, length: 5, lineStyle: { color: '#555' } },
    axisLabel: Object.assign({ margin: 3, alignMaxLabel: 'right',
      formatter: v => (v === 0 ? '0' : String(+v.toFixed(2))) }, tickStyle),
    splitLine: { show: true, lineStyle: gridLine },
    minorTick: { show: false, splitNumber: 2 },
    minorSplitLine: { show: true, lineStyle: gridLine }
  });
  option.yAxis.push({
    type: 'value', gridIndex: i,
    min: p.ticks[0], max: p.ticks[p.ticks.length - 1], interval: p.ticks[1] - p.ticks[0],
    name: p.yName, nameLocation: 'middle', nameGap: p.nameGap, nameRotate: 90, nameMoveOverlap: false,
    nameTextStyle: nameStyle,
    axisLine: { show: true, onZero: false, lineStyle: { color: '#000', width: 2 } },
    axisTick: { show: true, inside: true, length: 5, lineStyle: { color: '#555' } },
    axisLabel: Object.assign({ margin: 4, formatter: v => String(v) }, tickStyle),
    splitLine: { show: true, lineStyle: gridLine },
    minorTick: { show: false, splitNumber: 2 },
    minorSplitLine: { show: true, lineStyle: gridLine }
  });
  option.series.push({
    type: 'line', xAxisIndex: i, yAxisIndex: i, data: zeroRef, symbol: 'none', silent: true,
    lineStyle: { color: '#8a8a8a', width: 2 }, z: 1
  });
  p.traces.forEach(d => {
    option.series.push({
      type: 'line', xAxisIndex: i, yAxisIndex: i, data: d, symbol: 'none', silent: true,
      lineStyle: { color: p.color, width: 1.8 }, itemStyle: { color: p.color }, z: 2
    });
  });
});

const chart = echarts.init(document.getElementById('chart'), null, { renderer: 'canvas' });
chart.setOption(option);
</script>
</body>
</html>
